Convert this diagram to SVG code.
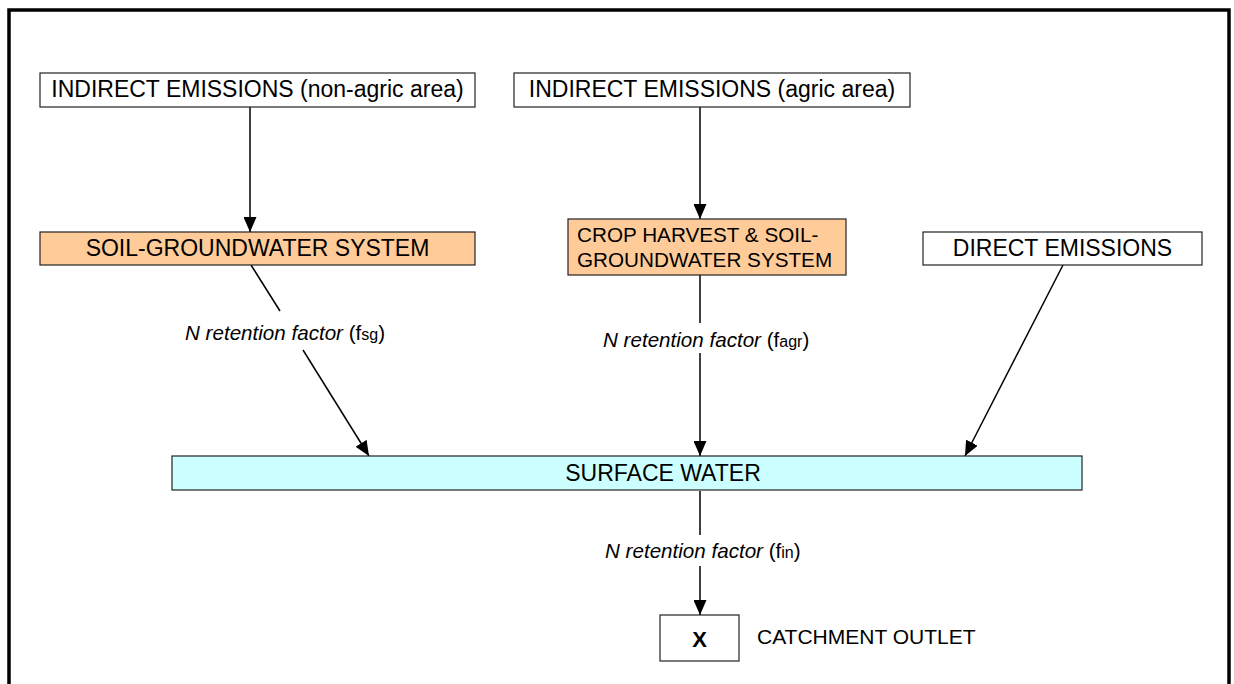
<svg xmlns="http://www.w3.org/2000/svg" width="1234" height="684" viewBox="0 0 1234 684">
<defs>
<marker id="ah" markerUnits="userSpaceOnUse" markerWidth="15" markerHeight="13" refX="15" refY="6.5" orient="auto">
<path d="M0,0 L15,6.5 L0,13 z" fill="#000"/>
</marker>
<style>
.box{stroke:#222;stroke-width:1.2}
.w{fill:#fff}
.o{fill:#FFCC99}
.c{fill:#CCFFFF}
.t{font-family:"Liberation Sans",Arial,sans-serif;font-size:23px;fill:#000}
.t21{font-family:"Liberation Sans",Arial,sans-serif;font-size:20.7px;fill:#000}
.lab{font-family:"Liberation Sans",Arial,sans-serif;font-size:20.6px;fill:#000}
.it{font-style:italic}
.sub{font-size:16px}
.ln{stroke:#000;stroke-width:1.5;fill:none}
</style>
</defs>
<rect width="1234" height="684" fill="#fff"/>
<rect x="9" y="10" width="1220" height="700" fill="none" stroke="#000" stroke-width="3.5"/>

<g id="connectors">
<line class="ln" x1="250" y1="107" x2="250" y2="232" marker-end="url(#ah)"/>
<line class="ln" x1="700" y1="107" x2="700" y2="219" marker-end="url(#ah)"/>
<line class="ln" x1="251" y1="265" x2="280" y2="311"/>
<line class="ln" x1="303" y1="350" x2="369" y2="456" marker-end="url(#ah)"/>
<line class="ln" x1="700" y1="275" x2="700" y2="323"/>
<line class="ln" x1="700" y1="353" x2="700" y2="456" marker-end="url(#ah)"/>
<line class="ln" x1="1063" y1="265" x2="965" y2="456" marker-end="url(#ah)"/>
<line class="ln" x1="700" y1="491" x2="700" y2="535"/>
<line class="ln" x1="700" y1="566" x2="700" y2="615" marker-end="url(#ah)"/>
<text class="lab" x="185" y="340"><tspan class="it">N retention factor</tspan> (f<tspan class="sub">sg</tspan>)</text>
<text class="lab" x="603" y="347"><tspan class="it">N retention factor</tspan> (f<tspan class="sub">agr</tspan>)</text>
<text class="lab" x="605" y="558"><tspan class="it">N retention factor</tspan> (f<tspan class="sub">in</tspan>)</text>
</g>

<g id="indirect-nonagric">
<rect class="box w" x="40" y="73" width="435" height="34"/>
<text class="t" x="257.5" y="97" text-anchor="middle">INDIRECT EMISSIONS (non-agric area)</text>
</g>
<g id="indirect-agric">
<rect class="box w" x="514" y="73" width="396" height="34"/>
<text class="t" x="712" y="97" text-anchor="middle">INDIRECT EMISSIONS (agric area)</text>
</g>
<g id="soil-groundwater">
<rect class="box o" x="40" y="232" width="435" height="33"/>
<text class="t" x="257.5" y="256" text-anchor="middle">SOIL-GROUNDWATER SYSTEM</text>
</g>
<g id="crop-harvest">
<rect class="box o" x="568" y="219" width="278" height="56"/>
<text class="t21" x="577" y="242">CROP HARVEST &amp; SOIL-</text>
<text class="t21" x="577" y="267">GROUNDWATER SYSTEM</text>
</g>
<g id="direct-emissions">
<rect class="box w" x="923" y="232" width="279" height="33"/>
<text class="t" x="1062.5" y="256" text-anchor="middle">DIRECT EMISSIONS</text>
</g>
<g id="surface-water">
<rect class="box c" x="172" y="456" width="910" height="34"/>
<text class="t" x="663" y="481" text-anchor="middle">SURFACE WATER</text>
</g>
<g id="catchment-outlet">
<rect class="box w" x="660" y="615" width="79" height="46"/>
<text class="t" x="699.5" y="647" text-anchor="middle" font-weight="bold" style="font-size:22px">X</text>
<text class="lab" x="757" y="644" style="font-size:21px">CATCHMENT OUTLET</text>
</g>
</svg>
